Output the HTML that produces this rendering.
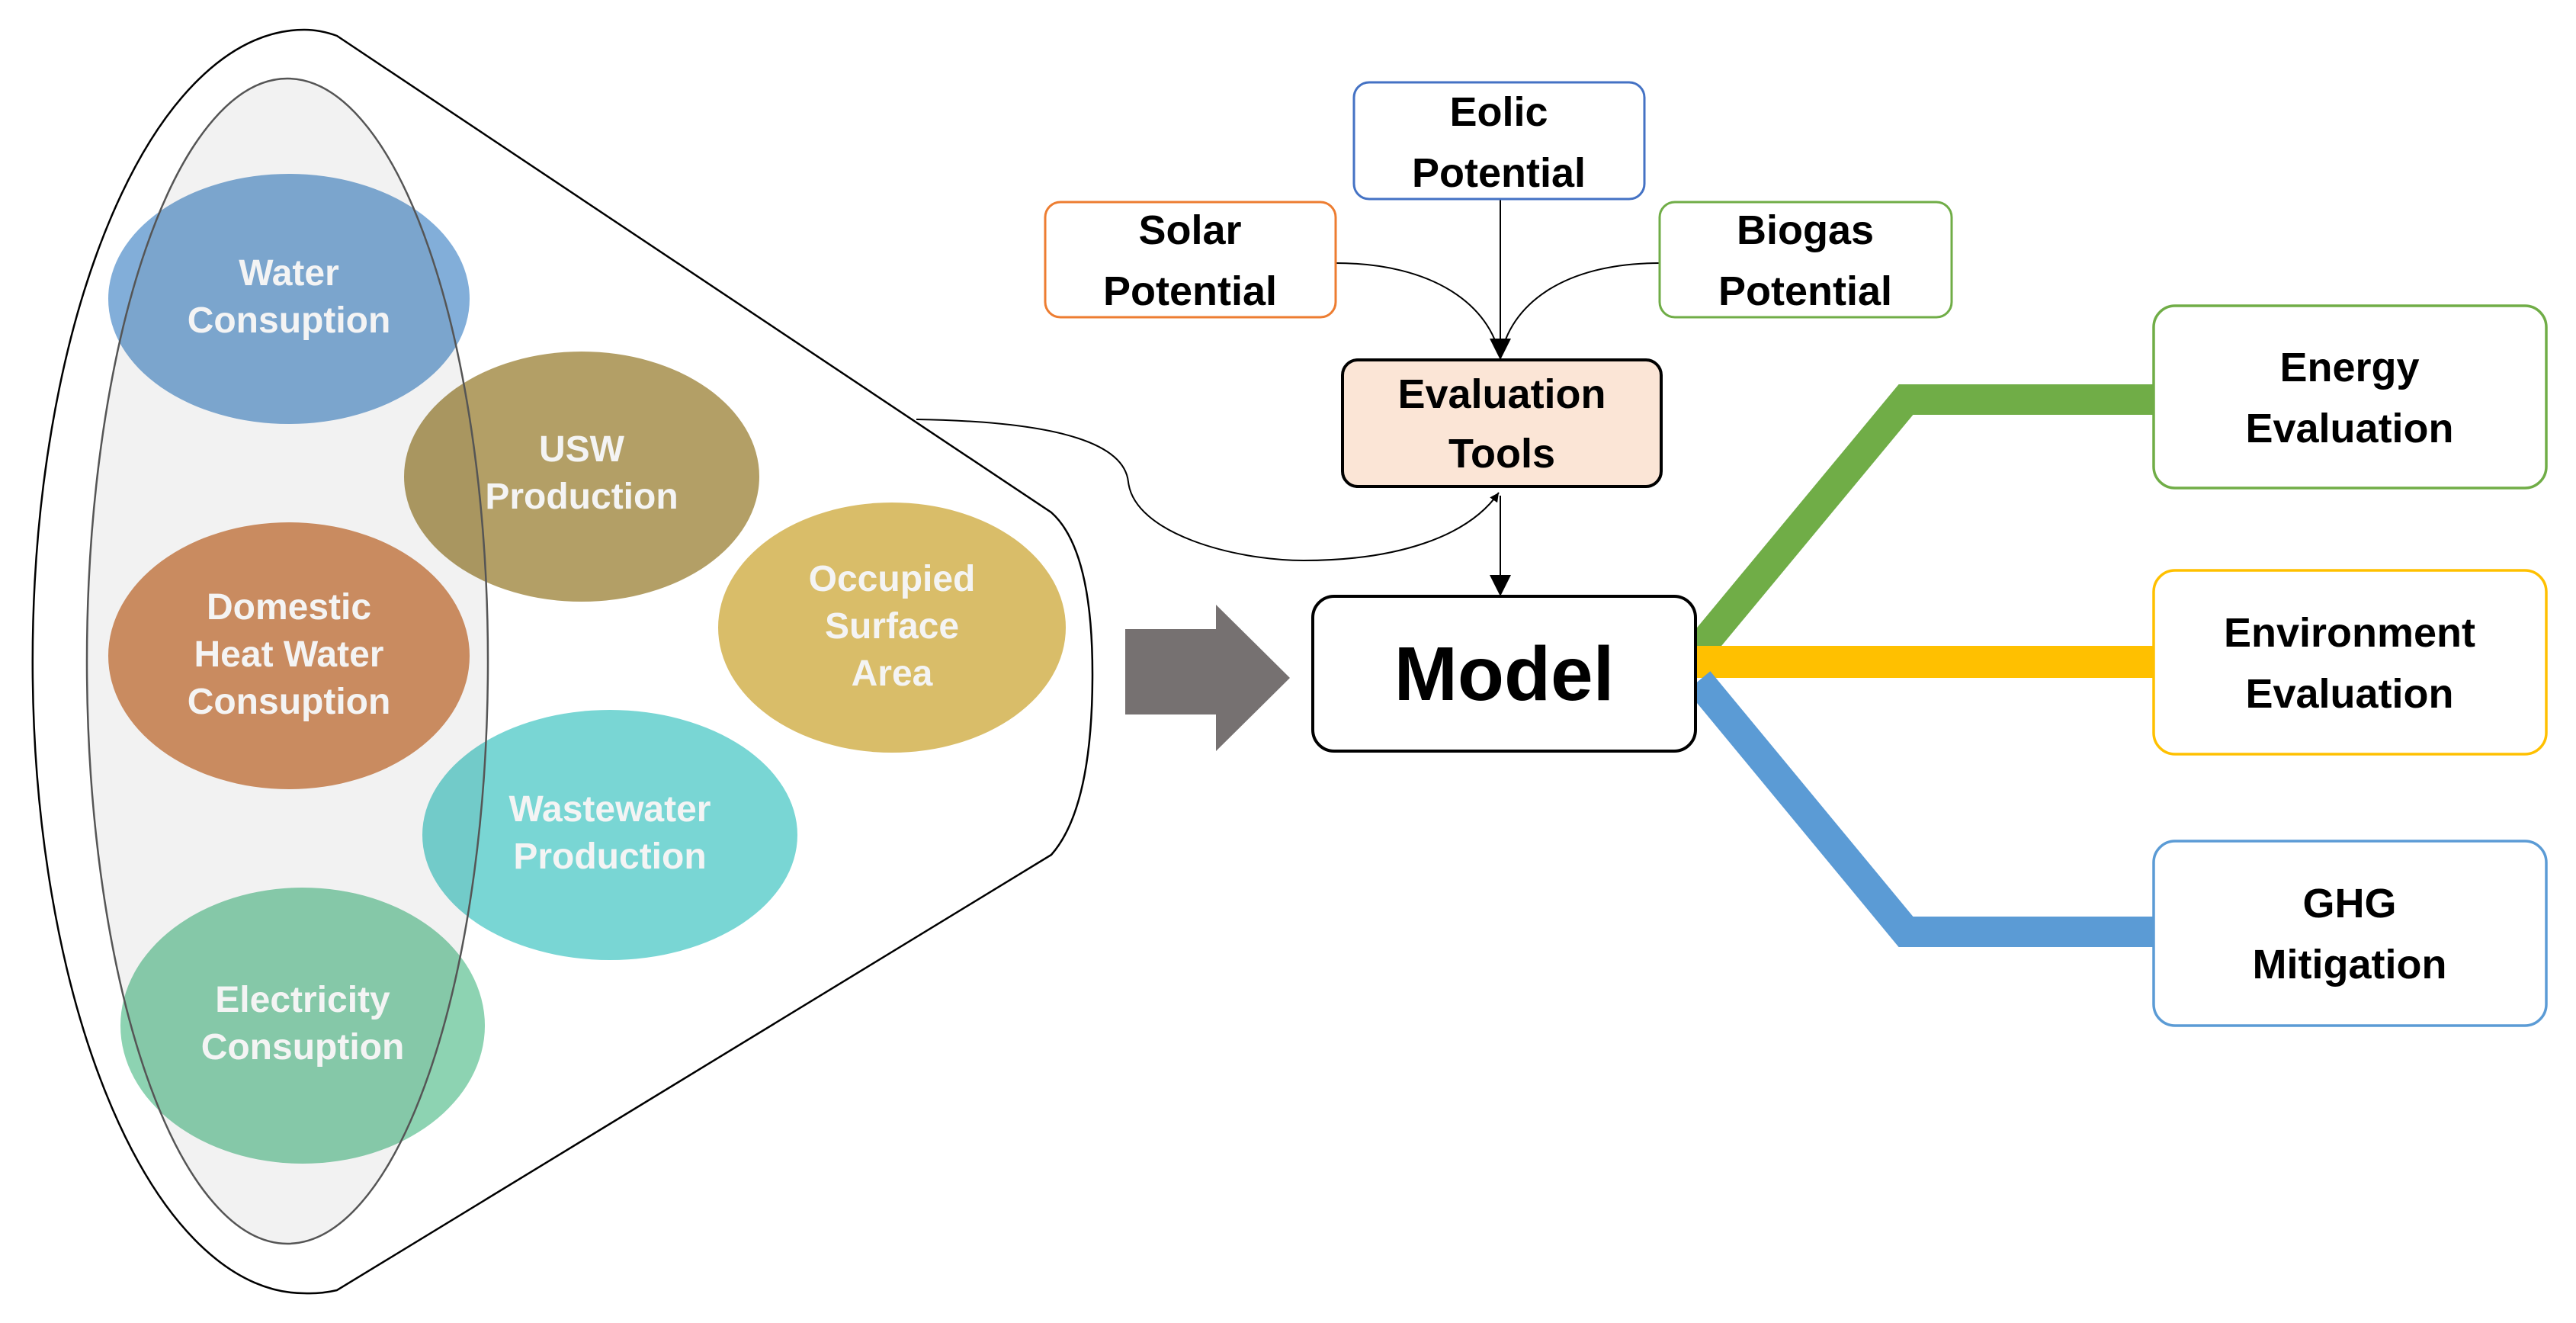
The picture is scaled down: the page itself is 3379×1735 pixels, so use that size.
<!DOCTYPE html>
<html><head><meta charset="utf-8"><style>
html,body{margin:0;padding:0;background:#fff;}
svg{display:block;}
.w{font-family:"Liberation Sans",sans-serif;font-weight:bold;fill:#f4f4f4;font-size:48px;text-anchor:middle;}
.b{font-family:"Liberation Sans",sans-serif;font-weight:bold;fill:#000;font-size:54px;text-anchor:middle;}
</style></head><body>
<svg width="3379" height="1735" viewBox="0 0 3379 1735" xmlns="http://www.w3.org/2000/svg">
<defs>
<marker id="ah" viewBox="0 0 10 10" refX="10" refY="5" markerWidth="12" markerHeight="12" markerUnits="userSpaceOnUse" orient="auto"><path d="M0,0 L10,5 L0,10 z" fill="#000"/></marker>
<marker id="ah2" viewBox="0 0 10 10" refX="10" refY="5" markerWidth="28" markerHeight="28" markerUnits="userSpaceOnUse" orient="auto"><path d="M0,0 L10,5 L0,10 z" fill="#000"/></marker>
</defs>
<path d="M442,47 L1379,672 Q1433,720 1433,884 Q1433,1060 1379,1121 L442,1692 Q420,1697 399,1696 A356,828 0 0 1 399,39 Q420,39 442,47 Z" fill="#fff" stroke="#000" stroke-width="2.5"/>
<ellipse cx="379" cy="392" rx="237" ry="164" fill="#82aed9"/>
<ellipse cx="763" cy="625" rx="233" ry="164" fill="#b39f66"/>
<ellipse cx="379" cy="860" rx="237" ry="175" fill="#d49366"/>
<ellipse cx="1170" cy="823" rx="228" ry="164" fill="#d9bd69"/>
<ellipse cx="800" cy="1095" rx="246" ry="164" fill="#79d6d4"/>
<ellipse cx="397" cy="1345" rx="239" ry="181" fill="#8dd3b2"/>
<ellipse cx="377" cy="867" rx="263" ry="764" fill="rgba(0,0,0,0.05)" stroke="#555" stroke-width="2.5"/>
<text class="w" x="379" y="374">Water</text><text class="w" x="379" y="436">Consuption</text>
<text class="w" x="763" y="605">USW</text><text class="w" x="763" y="667">Production</text>
<text class="w" x="379" y="812">Domestic</text><text class="w" x="379" y="874">Heat Water</text><text class="w" x="379" y="936">Consuption</text>
<text class="w" x="1170" y="775">Occupied</text><text class="w" x="1170" y="837">Surface</text><text class="w" x="1170" y="899">Area</text>
<text class="w" x="800" y="1077">Wastewater</text><text class="w" x="800" y="1139">Production</text>
<text class="w" x="397" y="1327">Electricity</text><text class="w" x="397" y="1389">Consuption</text>
<path d="M1202,550 C1400,553 1475,585 1480,632 C1488,700 1620,735 1710,735 C1830,735 1925,705 1966,646" fill="none" stroke="#000" stroke-width="2" marker-end="url(#ah)"/>
<path d="M1476,825 L1595,825 L1595,793 L1692,889 L1595,985 L1595,937 L1476,937 Z" fill="#767171"/>
<polyline points="2228,852 2500,524 2825,524" fill="none" stroke="#70ad47" stroke-width="40"/>
<line x1="2224" y1="868" x2="2825" y2="868" stroke="#ffc000" stroke-width="42"/>
<polyline points="2228,893 2500,1222 2825,1222" fill="none" stroke="#5b9bd5" stroke-width="40"/>
<line x1="1968" y1="261" x2="1968" y2="472" stroke="#000" stroke-width="2" marker-end="url(#ah2)"/>
<path d="M1752,345 C1880,345 1955,400 1968,470" fill="none" stroke="#000" stroke-width="2"/>
<path d="M2177,345 C2050,345 1980,400 1968,470" fill="none" stroke="#000" stroke-width="2"/>
<line x1="1968" y1="650" x2="1968" y2="782" stroke="#000" stroke-width="2" marker-end="url(#ah2)"/>
<rect x="1776" y="108" width="381" height="153" rx="20" fill="#fff" stroke="#4472c4" stroke-width="3"/>
<text class="b" x="1966" y="165">Eolic</text><text class="b" x="1966" y="245">Potential</text>
<rect x="1371" y="265" width="381" height="151" rx="20" fill="#fff" stroke="#ed7d31" stroke-width="3"/>
<text class="b" x="1561" y="320">Solar</text><text class="b" x="1561" y="400">Potential</text>
<rect x="2177" y="265" width="383" height="151" rx="20" fill="#fff" stroke="#70ad47" stroke-width="3"/>
<text class="b" x="2368" y="320">Biogas</text><text class="b" x="2368" y="400">Potential</text>
<rect x="1761" y="472" width="418" height="166" rx="20" fill="#fbe5d6" stroke="#000" stroke-width="4"/>
<text class="b" x="1970" y="535">Evaluation</text><text class="b" x="1970" y="613">Tools</text>
<rect x="1722" y="782" width="502" height="203" rx="28" fill="#fff" stroke="#000" stroke-width="4"/>
<text class="b" x="1973" y="918" style="font-size:100px">Model</text>
<rect x="2825" y="401" width="515" height="239" rx="28" fill="#fff" stroke="#70ad47" stroke-width="3.5"/>
<text class="b" x="3082" y="500">Energy</text><text class="b" x="3082" y="580">Evaluation</text>
<rect x="2825" y="748" width="515" height="241" rx="28" fill="#fff" stroke="#ffc000" stroke-width="3.5"/>
<text class="b" x="3082" y="848">Environment</text><text class="b" x="3082" y="928">Evaluation</text>
<rect x="2825" y="1103" width="515" height="242" rx="28" fill="#fff" stroke="#5b9bd5" stroke-width="3.5"/>
<text class="b" x="3082" y="1203">GHG</text><text class="b" x="3082" y="1283">Mitigation</text>
</svg>
</body></html>
